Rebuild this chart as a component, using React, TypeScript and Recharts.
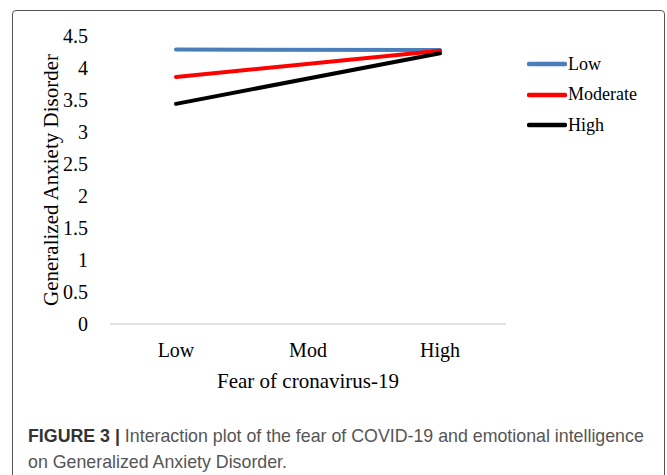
import { Line, LineChart, XAxis, YAxis } from "recharts";

const fearLevels = ["Low", "Mod", "High"];
const lowEI = [4.29, null, 4.28];
const moderateEI = [3.86, null, 4.27];
const highEI = [3.44, null, 4.23];
const yTicks = [0, 0.5, 1, 1.5, 2, 2.5, 3, 3.5, 4, 4.5];

const seriesList = [
  { key: "low", name: "Low", color: "#4A7EBB", values: lowEI },
  { key: "moderate", name: "Moderate", color: "#FF0000", values: moderateEI },
  { key: "high", name: "High", color: "#000000", values: highEI },
];

const rows = fearLevels.map((level, i) => {
  const row: Record<string, string | number | null> = { level };
  seriesList.forEach((s) => (row[s.key] = s.values[i]));
  return row;
});

const serif = '"Liberation Serif", "Times New Roman", serif';

// legend drawn beside the chart so it doesn't eat into the plot area
function SeriesLegend() {
  return (
    <div
      style={{
        position: "absolute",
        left: 514,
        top: 38,
        fontFamily: serif,
        fontSize: 18,
        color: "#000",
      }}
    >
      {seriesList.map((s) => (
        <div key={s.key} style={{ height: 30.5, display: "flex", alignItems: "center" }}>
          <svg width={40} height={8} style={{ display: "block" }}>
            <line x1={2} y1={4} x2={38} y2={4} stroke={s.color} strokeWidth={4.5} strokeLinecap="round" />
          </svg>
          <span style={{ marginLeft: 1 }}>{s.name}</span>
        </div>
      ))}
    </div>
  );
}

export default function App() {
  return (
    <div
      style={{
        position: "absolute",
        left: 12,
        top: 10,
        width: 651,
        height: 480,
        border: "1px solid #555",
        borderRadius: 4,
        background: "#fff",
      }}
    >
      <LineChart
        width={651}
        height={400}
        data={rows}
        margin={{ top: 25, right: 158, left: 0, bottom: 38 }}
      >
        <XAxis
          dataKey="level"
          stroke="#D9D9D9"
          strokeWidth={1.5}
          tickLine={false}
          tickSize={6}
          tickMargin={13}
          height={49}
          padding={{ left: 66, right: 66 }}
          tick={{ fill: "#000", fontFamily: serif, fontSize: 20 }}
          label={{
            value: "Fear of cronavirus-19",
            position: "bottom",
            offset: 0,
            fill: "#000",
            fontFamily: serif,
            fontSize: 21,
          }}
        />
        <YAxis
          domain={[0, 4.5]}
          ticks={yTicks}
          width={97}
          axisLine={false}
          tickLine={false}
          tickSize={6}
          tickMargin={16}
          tick={{ fill: "#000", fontFamily: serif, fontSize: 20 }}
          label={{
            value: "Generalized Anxiety Disorder",
            angle: -90,
            position: "insideLeft",
            offset: 38,
            style: { textAnchor: "middle" },
            fill: "#000",
            fontFamily: serif,
            fontSize: 21,
          }}
        />
        {seriesList.map((s) => (
          <Line
            key={s.key}
            dataKey={s.key}
            name={s.name}
            stroke={s.color}
            strokeWidth={4}
            strokeLinecap="round"
            dot={false}
            activeDot={false}
            connectNulls
            isAnimationActive={false}
          />
        ))}
      </LineChart>
      <SeriesLegend />
      <div
        style={{
          position: "absolute",
          left: 15,
          top: 412,
          whiteSpace: "nowrap",
          fontFamily: '"Liberation Sans", Arial, sans-serif',
          fontSize: 17.8,
          lineHeight: "26px",
          color: "#555",
        }}
      >
        <b style={{ color: "#333" }}>FIGURE 3 |</b> Interaction plot of the fear of COVID-19 and
        emotional intelligence
        <br />
        on Generalized Anxiety Disorder.
      </div>
    </div>
  );
}
